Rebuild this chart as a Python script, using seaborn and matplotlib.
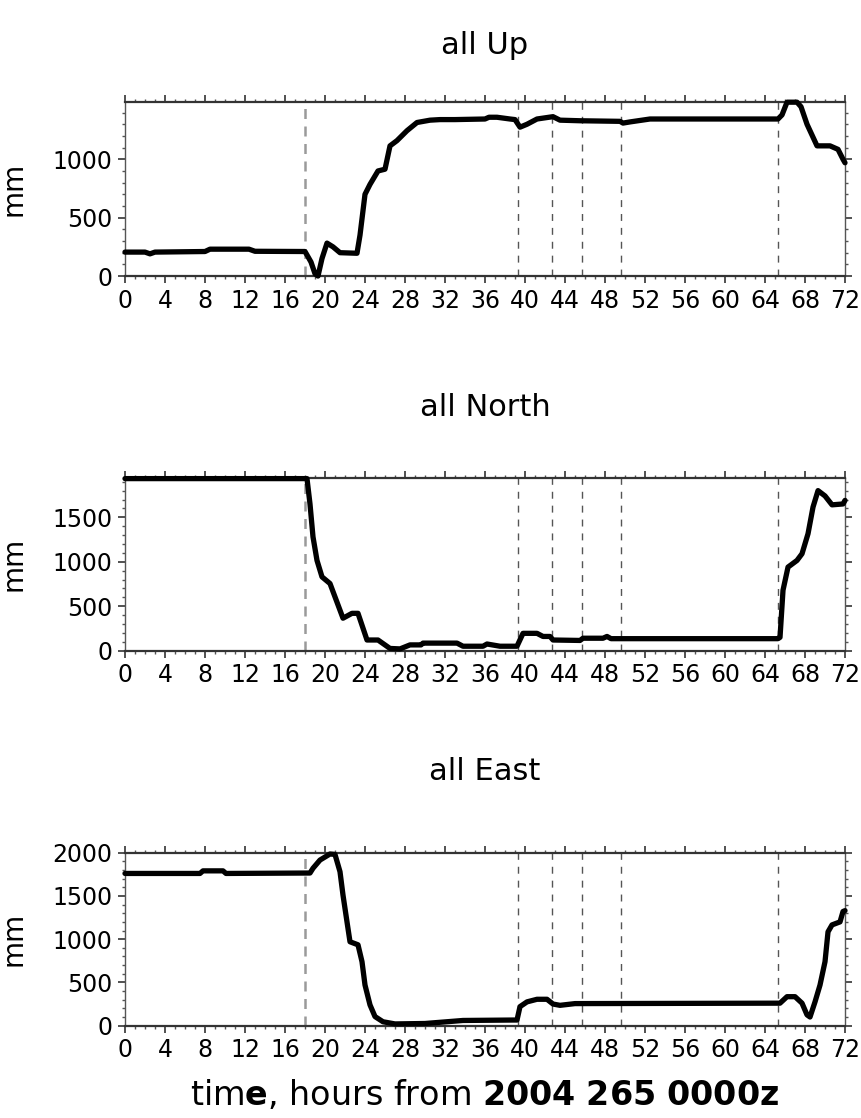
import numpy as np
import pandas as pd
import matplotlib
matplotlib.use("Agg")
import matplotlib.pyplot as plt
import seaborn as sns
from matplotlib.ticker import MultipleLocator

# ---------------- data ----------------
titles = ["all Up", "all North", "all East"]

up_hours = [0, 2.0, 2.5, 3.0, 8.0, 8.5, 12.4, 13.0, 18.0, 18.6, 19.0, 19.3, 19.7, 20.2,
            20.8, 21.5, 23.2, 23.5, 24.0, 24.5, 25.3, 26.0, 26.5, 27.2, 28.2, 29.2, 30.5,
            31.5, 33.0, 36.0, 36.4, 37.2, 38.5, 39.0, 39.5, 40.2, 41.2, 42.8, 43.5, 45.5,
            49.5, 49.8, 50.5, 52.5, 65.3, 65.7, 66.2, 67.2, 67.6, 68.2, 69.2, 70.5, 71.3,
            71.8, 72.0]
up_mm = [205, 205, 190, 205, 210, 230, 230, 212, 210, 120, 20, 0, 150, 282,
         250, 200, 195, 350, 700, 785, 900, 915, 1115, 1160, 1245, 1315, 1335,
         1340, 1340, 1345, 1360, 1360, 1345, 1340, 1275, 1300, 1345, 1365, 1335, 1330,
         1325, 1310, 1320, 1345, 1345, 1380, 1489, 1489, 1450, 1300, 1115, 1115, 1085,
         1000, 970]

north_hours = [0, 18.2, 18.5, 18.8, 19.2, 19.7, 20.5, 21.0, 21.8, 22.7, 23.3, 24.2, 25.3,
               26.5, 27.5, 28.5, 29.6, 29.8, 33.2, 33.8, 35.8, 36.2, 37.5, 39.2, 39.8,
               40.5, 41.2, 41.8, 42.5, 42.8, 45.5, 45.8, 47.8, 48.2, 48.6, 65.3, 65.5,
               65.8, 66.3, 67.2, 67.7, 68.3, 68.8, 69.3, 70.0, 70.7, 71.8, 72.0]
north_mm = [1935, 1935, 1650, 1280, 1015, 830, 755, 605, 365, 420, 420, 120, 120,
            25, 20, 65, 65, 85, 85, 50, 50, 75, 50, 50, 195,
            195, 195, 160, 160, 120, 115, 140, 140, 160, 135, 135, 150,
            680, 940, 1015, 1090, 1315, 1615, 1800, 1740, 1640, 1650, 1690]

east_hours = [0, 7.5, 7.8, 9.8, 10.1, 18.5, 18.8, 19.5, 20.5, 21.0, 21.5, 21.8, 22.2,
              22.5, 23.3, 23.7, 24.0, 24.5, 25.0, 25.8, 27.0, 30.0, 33.8, 38.8, 39.2,
              39.5, 40.2, 41.2, 42.2, 42.8, 43.5, 45.0, 65.5, 66.2, 67.0, 67.7, 68.2,
              68.5, 69.0, 69.5, 70.0, 70.3, 70.7, 71.5, 71.8, 72.0]
east_mm = [1760, 1760, 1790, 1790, 1760, 1765, 1820, 1915, 1985, 1980, 1780, 1510, 1200,
           970, 935, 740, 470, 240, 105, 45, 20, 25, 60, 65, 65,
           220, 275, 305, 305, 250, 235, 255, 260, 335, 335, 260, 125,
           100, 275, 470, 740, 1085, 1165, 1200, 1320, 1330]

y_tops = [1490, 1945, 2000]
event_hours = [18.0, 39.25, 42.65, 45.65, 49.55, 65.25]

series = [(up_hours, up_mm), (north_hours, north_mm), (east_hours, east_mm)]

# ---------------- style ----------------
sns.set_style("ticks")
plt.rcParams["font.family"] = ["DejaVu Sans"]
plt.rcParams["mathtext.fontset"] = "dejavusans"
for k in ["text.color", "axes.labelcolor", "xtick.labelcolor", "ytick.labelcolor"]:
    plt.rcParams[k] = "black"

W, H = 862, 1118
fig = plt.figure(figsize=(W / 100, H / 100), dpi=100)
positions = [[0.145, 0.7531, 0.8353, 0.1556],
             [0.145, 0.4180, 0.8353, 0.1547],
             [0.145, 0.0826, 0.8353, 0.1547]]
title_y_px = [46, 408, 771]

for i, ((hrs, vals), title, top, pos) in enumerate(zip(series, titles, y_tops, positions)):
    ax = fig.add_axes(pos)
    df = pd.DataFrame({"hour": hrs, "mm": vals})
    for j, ev in enumerate(event_hours):
        if j == 0:
            ax.axvline(ev, color="#9a9a9a", lw=1.8, ls=(0, (4, 3)), zorder=1)
        else:
            ax.axvline(ev, color="#555555", lw=1.0, ls=(0, (5, 5)), zorder=1)
    sns.lineplot(data=df, x="hour", y="mm", ax=ax, color="black", lw=3.8,
                 estimator=None, sort=True, clip_on=False, zorder=3)
    ax.set_xlim(0, 72)
    ax.set_ylim(0, top)
    ax.xaxis.set_major_locator(MultipleLocator(4))
    ax.xaxis.set_minor_locator(MultipleLocator(1))
    ax.yaxis.set_major_locator(MultipleLocator(500))
    ax.yaxis.set_minor_locator(MultipleLocator(100))
    ax.tick_params(which="major", direction="out", length=5, width=1.2,
                   top=True, right=True, labelsize=17, pad=4, color="#333333")
    ax.tick_params(which="minor", direction="out", length=2.5, width=1.0,
                   top=True, right=True, color="#555555")
    for s in ["top", "bottom"]:
        ax.spines[s].set_linewidth(1.6)
        ax.spines[s].set_color("#333333")
    for s in ["left", "right"]:
        ax.spines[s].set_linewidth(1.0)
        ax.spines[s].set_color("#555555")
    fig.text(0.145 + 0.8353 / 2, 1 - title_y_px[i] / H, title, fontsize=22,
             ha="center", va="center")
    ax.set_ylabel("mm", fontsize=20)
    ax.yaxis.set_label_coords(-0.135, 0.5)
    ax.set_xlabel("")

fig.text(0.145 + 0.8353 / 2, 1 - 1095 / H,
         r"tim$\mathbf{e}$, hours from $\mathbf{2004\ 265\ 0000z}$",
         fontsize=24, ha="center", va="center")

fig.savefig("out.png", dpi=100, facecolor="white")
